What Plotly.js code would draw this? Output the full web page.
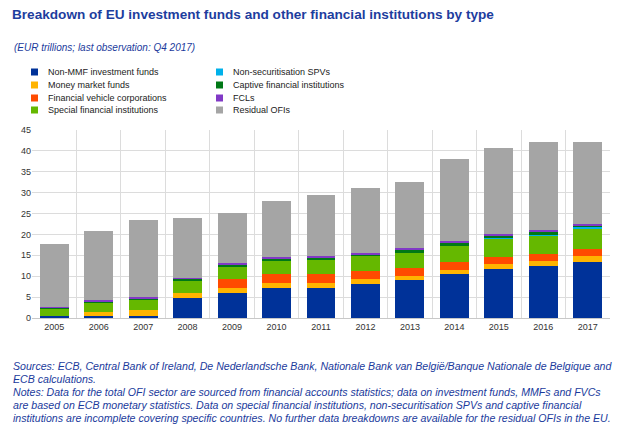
<!DOCTYPE html>
<html>
<head>
<meta charset="utf-8">
<script src="https://cdn.plot.ly/plotly-3.0.1.min.js"></script>
<style>
html,body{margin:0;padding:0;background:#fff;}
#chart{width:624px;height:435px;}
</style>
</head>
<body>
<div id="chart"></div>
<script>
// ---- data (EUR trillions) ----
var years = ['2005','2006','2007','2008','2009','2010','2011','2012','2013','2014','2015','2016','2017'];
var nonMMF   = [0.4, 0.55, 0.55, 4.8, 5.95, 7.15, 7.1, 8.25, 9.15, 10.5, 11.7, 12.4, 13.5];
var mmf      = [0.0, 1.0, 1.25, 1.25, 1.2, 1.2, 1.2, 1.1, 0.95, 1.05, 1.2, 1.2, 1.25];
var fvc      = [0.0, 0.0, 0.0, 0.05, 2.3, 2.3, 2.2, 1.9, 1.75, 1.75, 1.8, 1.75, 1.85];
var sfi      = [1.8, 2.15, 2.55, 2.85, 2.85, 3.0, 3.35, 3.65, 3.8, 4.05, 4.15, 4.3, 4.6];
var spv      = [0.0, 0.0, 0.0, 0.0, 0.0, 0.0, 0.0, 0.0, 0.0, 0.0, 0.3, 0.3, 0.5];
var captive  = [0.15, 0.25, 0.3, 0.3, 0.45, 0.5, 0.5, 0.3, 0.55, 0.55, 0.5, 0.55, 0.3];
var fcl      = [0.2, 0.3, 0.35, 0.4, 0.4, 0.55, 0.55, 0.4, 0.55, 0.55, 0.45, 0.5, 0.4];
var residual = [15.1, 16.5, 18.5, 14.2, 12.1, 13.4, 14.55, 15.6, 15.75, 19.6, 20.7, 21.2, 19.7];

var seriesNames = ['Non-MMF investment funds','Money market funds','Financial vehicle corporations','Special financial institutions',
                   'Non-securitisation SPVs','Captive financial institutions','FCLs','Residual OFIs'];
var seriesData = [nonMMF, mmf, fvc, sfi, spv, captive, fcl, residual];
var seriesColors = ['#003299','#FFB400','#FF4B00','#65B800','#00B1EA','#007816','#8139C6','#A5A5A5'];

var W = 624, H = 435;
var M = {l: 32, r: 14, t: 130, b: 117};
var pw = W - M.l - M.r, ph = H - M.t - M.b;
function px(p){ return (p - M.l) / pw; }
function py(p){ return (M.t + ph - p) / ph; }

var traces = seriesData.map(function(d, i){
  return {type:'bar', x: years, y: d, name: seriesNames[i],
          marker:{color: seriesColors[i], line:{width:0}}, showlegend:false,
          hoverinfo:'x+y+name'};
});

var txtColor = '#1a3a9c';
var annotations = [], shapes = [];

annotations.push({xref:'paper', yref:'paper', x:px(12), y:py(47), xanchor:'left', yanchor:'middle',
  text:'<i>(EUR trillions; last observation: Q4 2017)</i>', showarrow:false,
  font:{family:'Arial, Liberation Sans, sans-serif', size:10, color:txtColor}});

// custom legend (two columns)
var legCols = [ {sx:31, tx:46}, {sx:216, tx:231} ];
var legRows = [72, 85, 98, 110];
for (var i = 0; i < seriesNames.length; i++) {
  var c = legCols[Math.floor(i/4)], r = legRows[i % 4];
  shapes.push({type:'rect', xref:'paper', yref:'paper', x0:px(c.sx), x1:px(c.sx+7), y0:py(r+3.5), y1:py(r-3.5),
    fillcolor: seriesColors[i], line:{width:0}});
  annotations.push({xref:'paper', yref:'paper', x:px(c.tx), y:py(r), xanchor:'left', yanchor:'middle',
    text: seriesNames[i], showarrow:false,
    font:{family:'Arial, Liberation Sans, sans-serif', size:9, color:'#222'}});
}

var notes = [
  'Sources: ECB, Central Bank of Ireland, De Nederlandsche Bank, Nationale Bank van België/Banque Nationale de Belgique and',
  'ECB calculations.',
  'Notes: Data for the total OFI sector are sourced from financial accounts statistics; data on investment funds, MMFs and FVCs',
  'are based on ECB monetary statistics. Data on special financial institutions, non-securitisation SPVs and captive financial',
  'institutions are incomplete covering specific countries. No further data breakdowns are available for the residual OFIs in the EU.'
];
var noteY = [366, 379, 392, 405, 418];
notes.forEach(function(t, i){
  annotations.push({xref:'paper', yref:'paper', x:px(11), y:py(noteY[i]), xanchor:'left', yanchor:'middle',
    text:'<i>'+t+'</i>', showarrow:false,
    font:{family:'Arial, Liberation Sans, sans-serif', size:10.6, color:txtColor}});
});

var layout = {
  width: W, height: H,
  margin: M,
  paper_bgcolor:'#fff', plot_bgcolor:'#fff',
  barmode:'stack', bargap:0.35,
  showlegend:false,
  title:{text:'<b>Breakdown of EU investment funds and other financial institutions by type</b>',
         xref:'container', yref:'container', x:12/W, xanchor:'left', y:1-14/H, yanchor:'middle',
         font:{family:'Arial, Liberation Sans, sans-serif', size:13.6, color:'#1d3d9e'}},
  xaxis:{type:'category', tickson:'boundaries', showgrid:true, gridcolor:'#dcdcdc', gridwidth:1,
         ticks:'', showline:true, linecolor:'#c8c8c8', linewidth:1,
         tickfont:{family:'Arial, Liberation Sans, sans-serif', size:9, color:'#333'}, fixedrange:true},
  yaxis:{range:[0,45], dtick:5, tick0:0, showgrid:true, gridcolor:'#dcdcdc', gridwidth:1,
         zeroline:false, ticks:'', showline:false,
         tickfont:{family:'Arial, Liberation Sans, sans-serif', size:9, color:'#333'}, fixedrange:true},
  annotations: annotations,
  shapes: shapes
};

Plotly.newPlot('chart', traces, layout, {displayModeBar:false, staticPlot:true});
</script>
</body>
</html>
